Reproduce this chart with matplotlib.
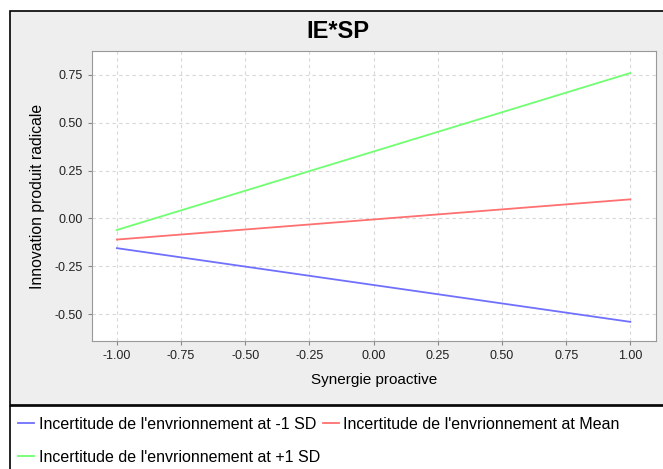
import matplotlib
matplotlib.use('Agg')
import matplotlib.pyplot as plt
from matplotlib.patches import Rectangle
from matplotlib.lines import Line2D

# values
x_vals = [-1.0, 1.0]
low_sd = [-0.155, -0.54]
mean_vals = [-0.11, 0.10]
high_sd = [-0.06, 0.76]
series_labels = ["Incertitude de l'envrionnement at -1 SD",
                 "Incertitude de l'envrionnement at Mean",
                 "Incertitude de l'envrionnement at +1 SD"]
series_colors = ['#7070ff', '#ff7070', '#70ff70']
x_ticks = [-1.0, -0.75, -0.5, -0.25, 0.0, 0.25, 0.5, 0.75, 1.0]
y_ticks = [-0.5, -0.25, 0.0, 0.25, 0.5, 0.75]

plt.rcParams['font.family'] = ['Liberation Sans', 'DejaVu Sans']

W, H = 663, 469
fig = plt.figure(figsize=(W / 100, H / 100), dpi=100)
fig.patch.set_facecolor('white')

# grey chart panel and legend box, kept behind the axes
fig.patches.append(Rectangle((10 / W, 1 - 405 / H), 1, (405 - 11) / H,
                             transform=fig.transFigure, facecolor='#eeeeee',
                             edgecolor='black', linewidth=1.2, zorder=-5))
fig.patches.append(Rectangle((10 / W, -0.1), 1, 0.1 + (1 - 406 / H),
                             transform=fig.transFigure, facecolor='white',
                             edgecolor='black', linewidth=1.2, zorder=-5))

ax = fig.add_axes([92 / W, 1 - 341 / H, (656 - 92) / W, (341 - 51) / H])
ax.set_facecolor('white')

for vals, lab, col in zip([low_sd, mean_vals, high_sd], series_labels, series_colors):
    ax.plot(x_vals, vals, color=col, linewidth=1.3, label=lab)

ax.set_xlim(-1.097, 1.10)
ax.set_ylim(-0.64, 0.875)
ax.set_xticks(x_ticks)
ax.set_yticks(y_ticks)
ax.set_xticklabels(['%.2f' % v for v in x_ticks])
ax.set_yticklabels(['%.2f' % v for v in y_ticks])
ax.tick_params(labelsize=9, length=3, color='#888888', colors='#222222')
ax.grid(True, color='#d8d8d8', linestyle=(0, (3, 3)), linewidth=0.8)
for s in ax.spines.values():
    s.set_color('#999999')

ax.set_xlabel('Synergie proactive', fontsize=11, labelpad=8)
ax.set_ylabel('Innovation produit radicale', fontsize=11.3, labelpad=7)
fig.text(0.51, 1 - 32 / H, 'IE*SP', fontsize=17, fontweight='bold',
         ha='center', va='center')

# legend in two rows, like the reference
handles = [Line2D([], [], color=c, linewidth=1.3) for c in series_colors]
fig.legend(handles[:2], series_labels[:2], loc='upper left',
           bbox_to_anchor=(18 / W, 1 - 417 / H), ncol=2, frameon=False,
           fontsize=11.5, handlelength=1.0, handletextpad=0.3, columnspacing=0.4,
           borderpad=0, borderaxespad=0)
fig.legend(handles[2:], series_labels[2:], loc='upper left',
           bbox_to_anchor=(18 / W, 1 - 450 / H), ncol=1, frameon=False,
           fontsize=11.5, handlelength=1.0, handletextpad=0.3,
           borderpad=0, borderaxespad=0)

fig.savefig('out.png', dpi=100)
